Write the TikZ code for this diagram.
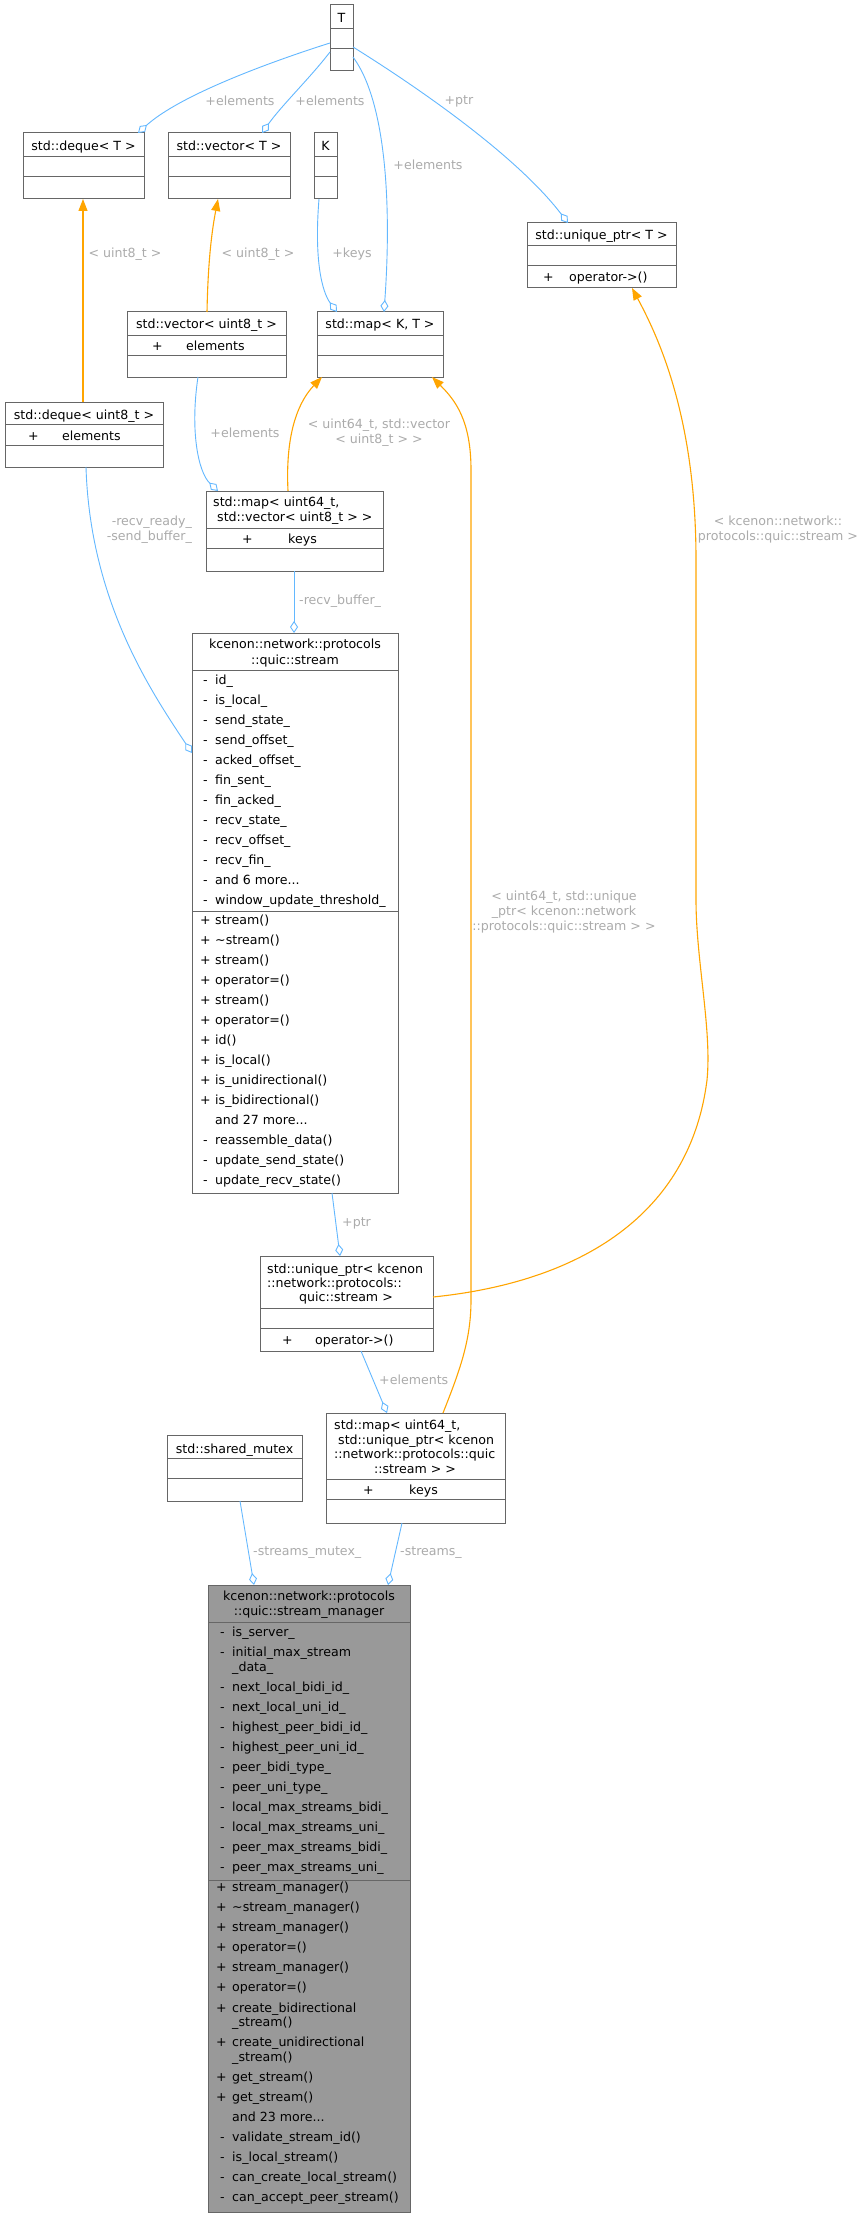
\documentclass[tikz,border=0pt]{standalone}
\usepackage{fontspec}
\setmainfont{DejaVu Sans}
\usetikzlibrary{arrows.meta,calc}
\definecolor{eblue}{HTML}{63B8FF}
\definecolor{eorange}{HTML}{FFA500}
\definecolor{lgray}{HTML}{ABABAB}
\definecolor{bgray}{HTML}{666666}
\definecolor{mfill}{HTML}{999999}
\newcommand\ft{\fontsize{12.6}{15}\selectfont}
\begin{document}
\begin{tikzpicture}[x=1pt,y=-1pt,
  box/.style={draw=bgray,line width=1pt,fill=white,anchor=north west,inner sep=0,outer sep=0},
  sep/.style={draw=bgray,line width=1pt},
  tx/.style={font=\ft,inner sep=0,anchor=base west},
  tc/.style={font=\ft,inner sep=0,anchor=base},
  lbl/.style={font=\ft,text=lgray,inner sep=0,align=center},
  ag/.style={draw=eblue,line width=0.9pt,-{Diamond[open,length=12pt,width=8pt,fill=white]}},
  inh/.style={draw=eorange,line width=1.1pt,-{Triangle[length=12pt,width=9pt]}}]
\useasboundingbox (0,0) rectangle (867,2215);
\fill[white] (0,0) rectangle (867,2215);

% ---------- boxes ----------
\node[box,minimum width=23pt,minimum height=66pt] (T) at (330,5) {};
\draw[sep] (330,29) -- (353,29); \draw[sep] (330,49) -- (353,49);
\node[tc] at (341.5,23) {T};

\node[box,minimum width=121pt,minimum height=66pt] (dqT) at (23,133) {};
\draw[sep] (23,157) -- (144,157); \draw[sep] (23,177) -- (144,177);
\node[tc] at (83.5,151) {std::deque< T >};

\node[box,minimum width=122pt,minimum height=66pt] (vcT) at (168,133) {};
\draw[sep] (168,157) -- (290,157); \draw[sep] (168,177) -- (290,177);
\node[tc] at (229,151) {std::vector< T >};

\node[box,minimum width=23pt,minimum height=66pt] (K) at (314,133) {};
\draw[sep] (314,157) -- (337,157); \draw[sep] (314,177) -- (337,177);
\node[tc] at (325.5,151) {K};

\node[box,minimum width=149pt,minimum height=65pt] (upT) at (527,223) {};
\draw[sep] (527,246) -- (676,246); \draw[sep] (527,266) -- (676,266);
\node[tc] at (601.5,240) {std::unique\_ptr< T >};
\node[tx] at (543,282) {+}; \node[tx] at (569,282) {operator->()};

\node[box,minimum width=159pt,minimum height=65pt] (vc8) at (127,312) {};
\draw[sep] (127,335) -- (286,335); \draw[sep] (127,355) -- (286,355);
\node[tc] at (206.5,329) {std::vector< uint8\_t >};
\node[tx] at (152,350) {+}; \node[tx] at (186,350) {elements};

\node[box,minimum width=126pt,minimum height=65pt] (mKT) at (317,312) {};
\draw[sep] (317,335) -- (443,335); \draw[sep] (317,355) -- (443,355);
\node[tc] at (380,329) {std::map< K, T >};

\node[box,minimum width=158pt,minimum height=65pt] (dq8) at (5,402) {};
\draw[sep] (5,424) -- (163,424); \draw[sep] (5,445) -- (163,445);
\node[tc] at (84,419) {std::deque< uint8\_t >};
\node[tx] at (28,440) {+}; \node[tx] at (62,440) {elements};

\node[box,minimum width=177pt,minimum height=80pt] (mv) at (206,491) {};
\draw[sep] (206,528) -- (383,528); \draw[sep] (206,548) -- (383,548);
\node[tx] at (213,506) {std::map< uint64\_t,};
\node[tx] at (217,521) {std::vector< uint8\_t > >};
\node[tx] at (242,543) {+}; \node[tx] at (288,543) {keys};

% stream
\node[box,minimum width=206pt,minimum height=560pt] (st) at (192,633) {};
\draw[sep] (192,670) -- (398,670); \draw[sep] (192,911) -- (398,911);
\node[tc] at (295,648) {kcenon::network::protocols};
\node[tc] at (295,664) {::quic::stream};
\foreach \n [count=\i from 0] in {id\_,is\_local\_,send\_state\_,send\_offset\_,acked\_offset\_,fin\_sent\_,fin\_acked\_,recv\_state\_,recv\_offset\_,recv\_fin\_,{},window\_update\_threshold\_}{
  \node[tx] at (203,684+20*\i) {-}; \node[tx] at (215,684+20*\i) {\n};}
\node[tx] at (215,884) {and 6 more...};
\node[tx] at (203,884) {\phantom{-}};
\foreach \n [count=\i from 0] in {stream(),\textasciitilde stream(),stream(),operator=(),stream(),operator=(),id(),is\_local(),is\_unidirectional(),is\_bidirectional()}{
  \node[tx] at (200,924+20*\i) {+}; \node[tx] at (215,924+20*\i) {\n};}
\node[tx] at (215,1124) {and 27 more...};
\foreach \n [count=\i from 0] in {reassemble\_data(),update\_send\_state(),update\_recv\_state()}{
  \node[tx] at (203,1144+20*\i) {-}; \node[tx] at (215,1144+20*\i) {\n};}

% unique_ptr<stream>
\node[box,minimum width=173pt,minimum height=95pt] (upS) at (260,1256) {};
\draw[sep] (260,1308) -- (433,1308); \draw[sep] (260,1328) -- (433,1328);
\node[tx] at (267,1273) {std::unique\_ptr< kcenon};
\node[tx] at (267,1287) {::network::protocols::};
\node[tc] at (346,1301) {quic::stream >};
\node[tx] at (282,1344) {+}; \node[tx] at (315,1344) {operator->()};

% shared mutex
\node[box,minimum width=135pt,minimum height=66pt] (sm) at (167,1435) {};
\draw[sep] (167,1458) -- (302,1458); \draw[sep] (167,1478) -- (302,1478);
\node[tc] at (234.5,1453) {std::shared\_mutex};

% map<uint64, unique_ptr>
\node[box,minimum width=179pt,minimum height=110pt] (mu) at (326,1413) {};
\draw[sep] (326,1479) -- (505,1479); \draw[sep] (326,1499) -- (505,1499);
\node[tx] at (334,1429) {std::map< uint64\_t,};
\node[tx] at (338,1444) {std::unique\_ptr< kcenon};
\node[tx] at (334,1458) {::network::protocols::quic};
\node[tc] at (415,1473) {::stream > >};
\node[tx] at (363,1494) {+}; \node[tx] at (409,1494) {keys};

% stream manager
\node[box,fill=mfill,minimum width=202pt,minimum height=627pt] (mg) at (208,1585) {};
\draw[sep] (208,1622) -- (410,1622); \draw[sep] (208,1880) -- (410,1880);
\node[tc] at (309,1600) {kcenon::network::protocols};
\node[tc] at (309,1615) {::quic::stream\_manager};
\node[tx] at (220,1636) {-}; \node[tx] at (232,1636) {is\_server\_};
\node[tx] at (220,1656) {-}; \node[tx] at (232,1656) {initial\_max\_stream};
\node[tx] at (232,1671) {\_data\_};
\foreach \n [count=\i from 0] in {next\_local\_bidi\_id\_,next\_local\_uni\_id\_,highest\_peer\_bidi\_id\_,highest\_peer\_uni\_id\_,peer\_bidi\_type\_,peer\_uni\_type\_,local\_max\_streams\_bidi\_,local\_max\_streams\_uni\_,peer\_max\_streams\_bidi\_,peer\_max\_streams\_uni\_}{
  \node[tx] at (220,1691+20.1*\i) {-}; \node[tx] at (232,1691+20.1*\i) {\n};}
\foreach \n [count=\i from 0] in {stream\_manager(),\textasciitilde stream\_manager(),stream\_manager(),operator=(),stream\_manager(),operator=()}{
  \node[tx] at (216,1891+20.1*\i) {+}; \node[tx] at (232,1891+20.1*\i) {\n};}
\node[tx] at (216,2012) {+}; \node[tx] at (232,2012) {create\_bidirectional};
\node[tx] at (232,2026) {\_stream()};
\node[tx] at (216,2046) {+}; \node[tx] at (232,2046) {create\_unidirectional};
\node[tx] at (232,2061) {\_stream()};
\node[tx] at (216,2081) {+}; \node[tx] at (232,2081) {get\_stream()};
\node[tx] at (216,2101) {+}; \node[tx] at (232,2101) {get\_stream()};
\node[tx] at (232,2121) {and 23 more...};
\foreach \n [count=\i from 0] in {validate\_stream\_id(),is\_local\_stream(),can\_create\_local\_stream(),can\_accept\_peer\_stream()}{
  \node[tx] at (220,2141+20.2*\i) {-}; \node[tx] at (232,2141+20.2*\i) {\n};}

% ---------- connectors ----------
\draw[ag] ($(T.north west)+(0,38)$) .. controls (270,62) and (180,95) .. ($(dqT.north west)+(115,0)$);
\draw[ag] ($(T.north west)+(0,47)$) .. controls (310,78) and (282,105) .. ($(vcT.north west)+(94,0)$);
\draw[ag] ($(T.north east)+(0,52)$) .. controls (385,100) and (392,200) .. ($(mKT.north west)+(67,0)$);
\draw[ag] ($(T.north east)+(0,42)$) .. controls (430,95) and (520,160) .. ($(upT.north west)+(41,0)$);
\draw[ag] ($(K.south west)+(5,0)$) .. controls (314,260) and (322,292) .. ($(mKT.north west)+(20,0)$);
\draw[inh] ($(vc8.north west)+(80,0)$) .. controls (208,260) and (212,230) .. ($(vcT.south west)+(50,0)$);
\draw[inh] ($(dq8.north west)+(78,0)$) -- ($(dqT.south west)+(60,0)$);
\draw[ag] ($(vc8.south west)+(71,0)$) .. controls (190,430) and (198,472) .. ($(mv.north west)+(12,0)$);
\draw[inh] ($(mv.north west)+(82,0)$) .. controls (285,430) and (300,400) .. ($(mKT.south west)+(5,0)$);
\draw[ag] ($(dq8.south west)+(81,0)$) .. controls (90,600) and (150,690) .. ($(st.north west)+(0,120)$);
\draw[ag] ($(mv.south west)+(88,0)$) -- ($(st.north west)+(102,0)$);
\draw[inh] ($(mu.north west)+(117,0)$) .. controls (460,1370) and (471,1340) .. (471,1300) -- (471,470) .. controls (471,420) and (455,400) .. ($(mKT.south west)+(115,0)$);
\draw[inh] ($(upS.north east)+(0,41)$) .. controls (580,1282) and (690,1215) .. (707,1080) .. controls (712,1030) and (696,960) .. (696,900) -- (696,560) .. controls (696,420) and (660,340) .. ($(upT.south west)+(105,0)$);
\draw[ag] ($(st.south west)+(140,0)$) -- ($(upS.north west)+(80,0)$);
\draw[ag] ($(upS.south west)+(101,0)$) -- ($(mu.north west)+(61,0)$);
\draw[ag] ($(sm.south west)+(73,0)$) -- ($(mg.north west)+(46,0)$);
\draw[ag] ($(mu.south west)+(76,0)$) -- ($(mg.north west)+(180,0)$);

% ---------- labels ----------
\node[lbl] (l1) at (240,101) {+elements};
\node[lbl] (l2) at (330,101) {+elements};
\node[lbl] (l3) at (428,165) {+elements};
\node[lbl] (l4) at (459,101) {+ptr};
\node[lbl] (l5) at (352,254) {+keys};
\node[lbl] (l6) at (125,254) {< uint8\_t >};
\node[lbl] (l7) at (258,254) {< uint8\_t >};
\node[lbl] (l8) at (245,433) {+elements};
\node[lbl] (l9) at (379,433) {< uint64\_t, std::vector\\< uint8\_t > >};
\node[lbl,align=right,anchor=east] (l10) at (192,530) {-recv\_ready\_\\-send\_buffer\_};
\node[lbl,anchor=west] (l11) at (299,601) {-recv\_buffer\_};
\node[lbl] (l12) at (778,530) {< kcenon::network::\\protocols::quic::stream >};
\node[lbl] (l13) at (564,912) {< uint64\_t, std::unique\\\_ptr< kcenon::network\\::protocols::quic::stream > >};
\node[lbl,anchor=west] (l14) at (342,1223) {+ptr};
\node[lbl,anchor=west] (l15) at (379,1380) {+elements};
\node[lbl,anchor=west] (l16) at (253,1553) {-streams\_mutex\_};
\node[lbl,anchor=west] (l17) at (400,1553) {-streams\_};
\end{tikzpicture}
\end{document}
